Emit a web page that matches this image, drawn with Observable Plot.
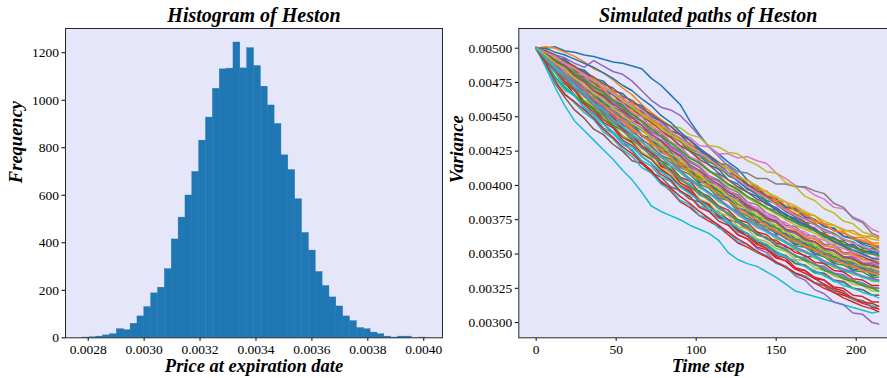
<!DOCTYPE html>
<html><head><meta charset="utf-8">
<script src="https://cdn.jsdelivr.net/npm/d3@7"></script>
<script src="https://cdn.jsdelivr.net/npm/@observablehq/plot@0.6"></script>
<style>
html,body{margin:0;padding:0;background:#fff;overflow:hidden;width:887px;height:378px;}
#fig{position:relative;width:887px;height:378px;overflow:hidden;}
#left{position:absolute;left:0;top:0;width:450px;height:378px;}
#right{position:absolute;left:440px;top:0;width:460px;height:378px;}
</style></head><body><div id="fig"><div id="left"></div><div id="right"></div></div>
<script>
// ---------- Histogram data ----------
const histTitle = "Histogram of Heston";
const histXLabel = "Price at expiration date";
const histYLabel = "Frequency";
const binLo = 0.00278, binHi = 0.004006;
const counts = [1,2,5,10,15,36,32,59,90,129,187,211,289,414,506,599,698,830,927,1048,
  1130,1133,1243,1134,1219,1144,1057,978,900,768,706,583,441,367,277,218,170,132,90,70,
  41,36,22,15,5,1,5,5,0,1];
const histXTicks = [0.0028,0.0030,0.0032,0.0034,0.0036,0.0038,0.0040];
const histYTicks = [0,200,400,600,800,1000,1200];

// ---------- Paths data (variance in units of 1e-5) ----------
const pathTitle = "Simulated paths of Heston";
const pathXLabel = "Time step";
const pathYLabel = "Variance";
const steps = [0,6,12,18,24,30,36,42,48,54,60,66,72,78,84,90,96,102,108,114,120,126,132,138,144,150,156,162,168,174,180,186,192,198,204,210,214];
const paths = [
[500,500,501,498,497,495,494,492,490,489,487,485,478,473,466,459,447,437,428,423,417,412,404,399,392,389,385,382,379,375,370,368,363,361,357,355,352],
[500,501,500,497,494,490,485,482,477,471,466,459,453,448,443,437,433,426,421,416,412,407,401,397,393,388,384,382,377,375,371,367,365,362,359,356,354],
[500,494,488,482,476,471,465,460,454,448,443,437,432,427,421,416,411,405,400,396,390,384,381,377,372,369,364,361,358,354,351,348,346,342,340,337,336],
[500,492,483,475,466,459,453,445,438,432,425,417,411,402,396,388,384,378,374,370,364,358,355,351,348,344,341,336,334,329,327,322,320,317,314,312,310],
[500,498,495,493,489,486,491,487,483,481,476,469,462,457,455,451,444,436,428,421,414,408,401,396,391,387,383,379,376,372,368,365,361,358,355,352,351],
[500,488,474,464,455,449,441,437,430,425,418,416,409,406,399,396,390,388,382,381,375,373,368,366,361,360,355,353,348,348,343,342,337,337,333,332,331],
[500,497,493,489,486,480,477,471,468,462,459,454,451,446,443,437,435,429,428,423,423,420,421,418,416,409,405,400,398,393,390,384,383,377,374,368,366],
[500,496,492,486,484,477,475,469,467,460,458,451,448,442,439,432,430,424,422,416,415,410,409,405,405,401,401,399,399,396,394,387,384,376,373,365,363],
[500,497,493,491,485,483,477,475,469,467,460,457,450,448,443,442,437,435,429,428,424,423,418,415,410,409,402,399,392,389,383,380,374,372,366,364,361],
[500,486,471,458,447,440,433,426,419,411,404,395,385,381,378,375,371,368,365,360,351,346,343,341,337,333,328,323,321,319,317,315,313,311,309,307,308],
[500,496,490,488,481,479,472,470,462,459,452,450,442,438,431,429,420,417,410,408,400,398,391,389,383,382,376,374,370,368,362,362,357,357,352,352,350],
[500,497,493,487,483,476,472,466,462,456,453,447,444,438,435,429,427,420,419,412,409,403,400,394,393,387,384,379,378,373,372,367,366,362,362,358,358],
[500,493,487,479,475,467,464,456,452,444,441,433,429,422,419,411,408,401,398,391,389,381,378,372,370,365,362,356,355,350,348,343,342,338,337,333,333],
[500,491,486,476,471,461,457,449,444,436,432,424,419,412,407,400,396,389,386,378,375,367,365,358,356,349,347,340,338,333,331,325,323,317,316,311,310],
[500,494,488,480,475,467,463,455,450,442,436,428,424,415,411,402,397,390,385,377,372,364,361,354,351,344,341,334,331,324,321,315,313,307,306,300,299],
[500,497,489,487,478,476,468,465,457,454,447,444,435,432,425,422,413,410,403,400,393,390,384,381,376,373,367,366,360,359,354,353,348,347,342,342,340],
[500,494,489,482,478,471,466,459,455,447,443,436,432,425,422,413,410,403,400,393,390,382,380,374,371,366,364,358,357,351,350,345,343,339,339,335,335],
[500,498,491,488,482,478,471,468,461,458,450,447,439,436,429,425,418,414,407,404,398,395,388,386,380,377,371,370,364,363,357,357,351,351,346,346,344],
[500,490,478,469,466,462,459,453,449,441,438,431,427,420,416,409,405,398,395,388,385,378,375,369,367,361,359,353,352,347,345,340,339,335,334,330,330],
[500,490,482,472,466,456,451,442,438,430,426,418,414,406,403,395,392,385,382,376,373,366,363,357,355,350,348,343,341,336,335,330,329,325,324,320,320],
[500,498,493,491,485,483,476,473,467,464,457,454,446,443,436,432,425,422,415,412,404,401,395,392,386,384,378,376,371,369,363,362,357,356,351,351,348],
[500,499,492,490,483,481,473,471,463,461,454,452,445,442,435,433,426,424,417,415,409,406,400,399,393,391,385,384,379,378,372,371,367,367,363,363,362],
[500,495,490,484,479,472,468,461,456,452,444,440,435,428,424,417,413,406,403,396,393,386,383,377,375,369,367,361,360,355,353,348,347,343,342,338,338],
[500,490,484,474,469,460,455,446,442,433,429,421,416,408,404,396,392,384,381,374,371,364,361,355,353,347,345,339,338,332,331,326,325,320,319,315,315],
[500,492,487,478,473,465,460,452,448,440,435,427,423,415,412,404,400,393,390,383,380,373,370,364,362,356,354,348,347,342,341,336,335,330,329,325,325],
[500,496,492,488,484,478,475,469,466,460,456,450,446,440,435,429,425,419,415,409,404,399,395,390,387,382,379,374,372,367,365,361,359,355,353,350,349],
[500,497,490,487,480,477,470,467,459,456,449,446,438,435,427,424,417,414,407,403,396,393,386,384,378,376,370,368,363,361,356,355,350,349,344,344,342],
[500,493,490,482,478,470,467,459,456,448,444,437,433,426,422,415,411,404,401,394,391,384,381,375,373,367,365,360,358,353,352,346,346,341,341,336,337],
[500,491,485,475,470,462,457,449,445,436,433,424,420,413,409,401,398,390,387,380,378,370,368,361,359,354,352,346,345,340,338,334,332,328,327,323,323],
[500,487,475,467,460,453,448,439,434,426,421,413,409,401,397,389,386,378,376,369,366,359,357,351,349,343,341,335,334,329,328,323,322,317,316,312,312],
[500,498,493,492,486,484,478,476,469,467,460,458,450,447,440,437,430,426,419,416,409,407,400,398,392,390,384,383,377,375,370,369,363,362,358,357,355],
[500,495,486,482,474,470,461,458,450,447,440,437,430,427,420,417,410,407,401,398,392,389,383,381,376,374,368,367,362,361,356,355,350,350,346,345,344],
[500,498,492,490,484,481,475,472,466,463,456,453,447,444,437,434,427,424,417,414,407,404,397,395,389,387,381,379,373,372,366,365,360,359,354,354,352],
[500,492,487,478,474,465,461,453,448,441,437,429,425,418,414,406,403,395,392,385,382,375,373,366,364,358,356,351,349,344,343,338,337,332,331,327,327],
[500,497,489,486,478,475,467,464,457,453,446,442,435,432,424,421,413,410,403,400,393,390,383,381,375,373,367,365,360,359,354,353,348,348,343,343,341],
[500,491,485,475,470,461,456,448,443,435,431,423,419,411,407,399,395,388,385,378,375,368,365,359,357,351,349,343,342,337,336,331,330,325,324,320,320],
[500,498,491,489,482,480,472,470,463,460,453,450,442,439,432,428,421,418,411,407,401,398,391,389,383,381,375,373,368,367,361,360,355,355,350,350,348],
[500,493,489,481,477,469,466,458,454,447,443,436,432,424,421,413,410,403,400,393,389,383,380,374,372,366,364,359,357,352,351,346,345,340,340,335,335],
[500,497,491,487,481,477,471,467,461,457,451,447,441,436,431,426,420,416,410,406,400,396,391,387,383,379,375,371,368,365,361,358,355,352,350,347,346],
[500,492,486,478,473,465,460,452,448,440,435,428,424,416,412,404,401,393,391,383,380,373,371,364,362,356,354,348,347,342,340,335,334,330,329,325,325],
[501,494,491,482,480,470,468,459,457,449,446,436,435,425,424,414,413,402,403,393,391,383,382,373,374,364,365,357,358,350,350,344,345,338,340,334,335],
[500,498,494,490,486,480,478,471,469,462,460,452,449,443,440,433,431,423,421,415,412,405,404,397,396,389,388,381,380,374,372,367,366,361,360,357,356],
[499,489,479,471,465,461,455,451,444,440,433,428,421,418,411,406,399,396,390,385,379,375,370,364,362,356,353,349,345,343,338,336,332,330,327,325,323],
[500,493,488,479,475,466,462,453,450,440,437,428,424,414,411,402,398,389,386,377,375,367,363,357,354,348,345,339,336,332,328,324,321,318,315,314,312],
[500,497,492,488,481,478,471,468,460,457,450,447,439,436,428,424,417,413,406,403,396,393,386,382,377,374,368,365,361,357,353,350,347,344,341,339,337],
[500,498,495,490,487,482,479,474,471,465,462,456,452,447,443,437,433,427,422,417,412,406,401,396,392,386,381,377,373,368,364,359,356,351,348,345,343],
[501,495,490,483,479,472,468,462,457,450,447,440,436,429,426,419,415,409,406,399,397,390,388,382,380,375,373,368,366,362,360,356,354,351,349,347,347],
[500,492,488,478,474,466,460,454,447,443,436,432,425,421,414,410,403,400,394,391,384,381,376,373,368,366,361,359,355,353,349,347,343,342,338,337,335],
[500,497,493,489,485,481,476,472,467,462,457,452,447,442,437,433,428,424,419,416,412,407,403,400,395,392,388,385,381,378,374,371,368,365,363,361,360],
[500,489,478,470,465,457,452,445,439,432,428,421,416,410,405,399,394,389,384,379,374,369,365,360,357,352,348,345,341,338,334,331,327,325,322,320,318],
[500,500,497,495,492,489,486,482,478,473,469,463,458,451,446,439,433,427,421,415,409,403,398,393,388,383,379,375,371,367,363,359,356,353,350,347,346],
[500,493,487,482,475,470,463,459,452,448,441,437,431,426,420,415,409,404,399,394,389,384,379,375,371,367,363,359,356,353,349,346,343,341,338,336,335],
[500,496,491,487,482,477,472,468,462,457,452,447,441,436,431,426,420,416,411,406,401,397,392,388,384,380,377,373,370,367,363,361,357,355,352,350,349],
[500,489,476,466,461,455,449,441,435,428,423,416,410,403,398,392,387,381,376,371,366,361,357,352,348,344,340,336,333,329,325,322,318,315,312,310,308],
[500,494,488,481,475,469,462,457,451,445,439,434,428,422,417,411,405,400,395,390,385,380,375,371,367,363,359,355,352,349,345,342,339,337,334,332,331],
[500,497,490,487,480,476,469,466,459,455,449,444,437,433,426,422,415,411,405,401,395,391,385,382,376,374,368,366,361,359,354,352,348,346,343,341,340],
[500,497,494,489,485,481,476,473,467,464,458,455,449,445,439,435,429,424,419,414,409,404,399,395,391,386,382,378,375,371,367,364,361,358,356,353,352],
[500,492,484,478,471,465,458,452,446,440,434,428,422,416,410,405,399,394,389,384,379,374,369,365,361,357,353,349,346,343,339,336,333,331,328,326,325],
[500,495,489,485,478,474,467,463,456,452,445,441,434,430,423,419,412,408,402,398,392,388,382,379,374,371,366,363,359,357,352,350,346,345,341,340,338],
[500,493,486,480,473,467,460,455,448,443,437,432,425,421,414,410,404,399,394,389,384,379,374,370,366,362,358,354,351,348,344,341,338,336,333,331,330]
];
const pathXTicks = [0,50,100,150,200];
const pathYTicks = [0.00300,0.00325,0.00350,0.00375,0.00400,0.00425,0.00450,0.00475,0.00500];
const tab10 = ["#1f77b4","#ff7f0e","#2ca02c","#d62728","#9467bd","#8c564b","#e377c2","#7f7f7f","#bcbd22","#17becf"];

// ---------- derived tables ----------
const bw = (binHi - binLo) / counts.length;
const bins = counts.map((c, i) => ({x1: binLo + i * bw, x2: binLo + (i + 1) * bw, y: c}));
const pathRows = [];
paths.forEach((p, id) => p.forEach((v, j) => pathRows.push({id, step: steps[j], v: v * 1e-5})));

const serif = "'Liberation Serif','Times New Roman',serif";
const baseStyle = {fontFamily: serif, fontSize: "13.5px", color: "#000", background: "transparent", maxWidth: "none", overflow: "visible"};
const labelOpts = {fontSize: 18.5, fontWeight: "bold", fontStyle: "italic", fontFamily: serif, fill: "#000"};
const titleOpts = {...labelOpts, fontSize: 20};

const left = Plot.plot({
  width: 450, height: 378,
  marginLeft: 65, marginRight: 8, marginTop: 28, marginBottom: 40.7,
  style: baseStyle,
  x: {domain: [0.0027188, 0.004067], ticks: histXTicks, tickFormat: d3.format(".4f"), tickSize: 3.5, tickPadding: 3, label: null},
  y: {domain: [0, 1302], ticks: histYTicks, tickFormat: d3.format("d"), tickSize: 3.5, tickPadding: 3, label: null},
  marks: [
    Plot.frame({fill: "#e6e6fa", stroke: "none"}),
    Plot.rectY(bins, {x1: "x1", x2: "x2", y: "y", fill: "#1f77b4", stroke: "#1f77b4", strokeWidth: 0.4, inset: 0}),
    Plot.frame({stroke: "#262626", strokeWidth: 1}),
    Plot.text([histTitle], {...titleOpts, frameAnchor: "top", lineAnchor: "top", dy: -20.5}),
    Plot.text([histXLabel], {...labelOpts, frameAnchor: "bottom", lineAnchor: "top", dy: 20.8}),
    Plot.text([histYLabel], {...labelOpts, frameAnchor: "left", lineAnchor: "middle", rotate: -90, dx: -49})
  ]
});
document.getElementById("left").appendChild(left);

const right = Plot.plot({
  width: 460, height: 378,
  marginLeft: 78.3, marginRight: 3.1, marginTop: 28, marginBottom: 40.7,
  style: baseStyle,
  x: {domain: [-10.85, 225.75], ticks: pathXTicks, tickFormat: d3.format("d"), tickSize: 3.5, tickPadding: 3, label: null},
  y: {domain: [0.0028892, 0.0051436], ticks: pathYTicks, tickFormat: d3.format(".5f"), tickSize: 3.5, tickPadding: 3, label: null},
  color: {type: "ordinal", domain: d3.range(paths.length), range: tab10},
  marks: [
    Plot.frame({fill: "#e6e6fa", stroke: "none"}),
    Plot.line(pathRows, {x: "step", y: "v", z: "id", stroke: "id", strokeWidth: 1.5}),
    Plot.frame({stroke: "#262626", strokeWidth: 1}),
    Plot.text([pathTitle], {...titleOpts, frameAnchor: "top", lineAnchor: "top", dy: -20.5}),
    Plot.text([pathXLabel], {...labelOpts, frameAnchor: "bottom", lineAnchor: "top", dy: 20.8}),
    Plot.text([pathYLabel], {...labelOpts, frameAnchor: "left", lineAnchor: "middle", rotate: -90, dx: -62})
  ]
});
document.getElementById("right").appendChild(right);
</script></body></html>
